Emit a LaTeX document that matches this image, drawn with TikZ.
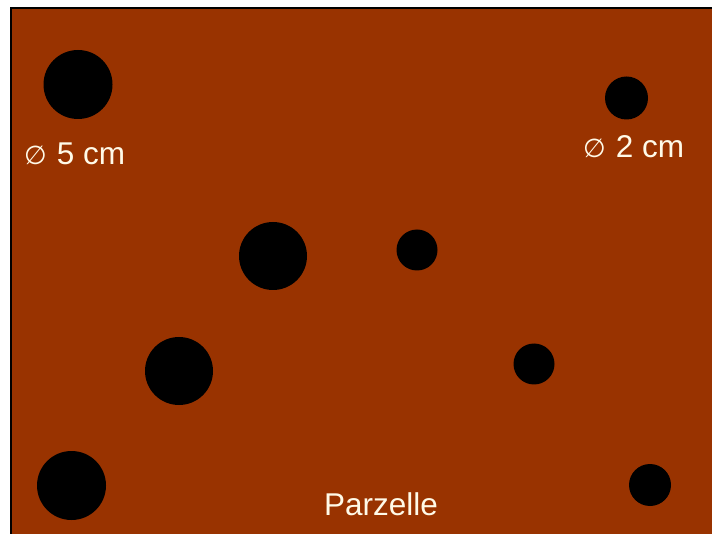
\documentclass[tikz,border=0pt]{standalone}
\usepackage{fontspec}
\setmainfont{Liberation Sans}
\newfontfamily\symfont{DejaVu Sans}
\definecolor{soil}{RGB}{153,51,0}
\definecolor{labeltext}{RGB}{255,250,232}
\newcommand{\diam}{{\symfont\fontsize{26}{26}\selectfont ∅}\hspace{10pt}}
\begin{document}
\begin{tikzpicture}[x=1pt,y=-1pt,
  hole/.style={circle,fill=black,inner sep=0pt,minimum size=#1},
  lbl/.style={text=labeltext,font=\fontsize{31.5}{31.5}\selectfont,inner sep=0pt}]
\useasboundingbox (0,0) rectangle (712,534);
\fill[white] (0,0) rectangle (712,534);
\fill[soil] (11,8) rectangle (714,536);
\draw[black,line width=2pt] (11,536) -- (11,8) -- (714,8);
% large holes (5 cm)
\node[hole=69pt] (a1) at (78,84.5) {};
\node[hole=68pt] (a2) at (273,256) {};
\node[hole=68pt] (a3) at (179,371) {};
\node[hole=69pt] (a4) at (71.5,485.5) {};
% small holes (2 cm)
\node[hole=43pt] (b1) at (626.5,98) {};
\node[hole=41pt] (b2) at (417,250) {};
\node[hole=41pt] (b3) at (534,364) {};
\node[hole=42pt] (b4) at (650,485) {};
% labels
\node[lbl,anchor=base west] (l5) at (24,165) {\diam 5 cm};
\node[lbl,anchor=base west] (l2) at (583,158) {\diam 2 cm};
\node[lbl,anchor=base] (lp) at (381,515) {Parzelle};
\end{tikzpicture}
\end{document}
